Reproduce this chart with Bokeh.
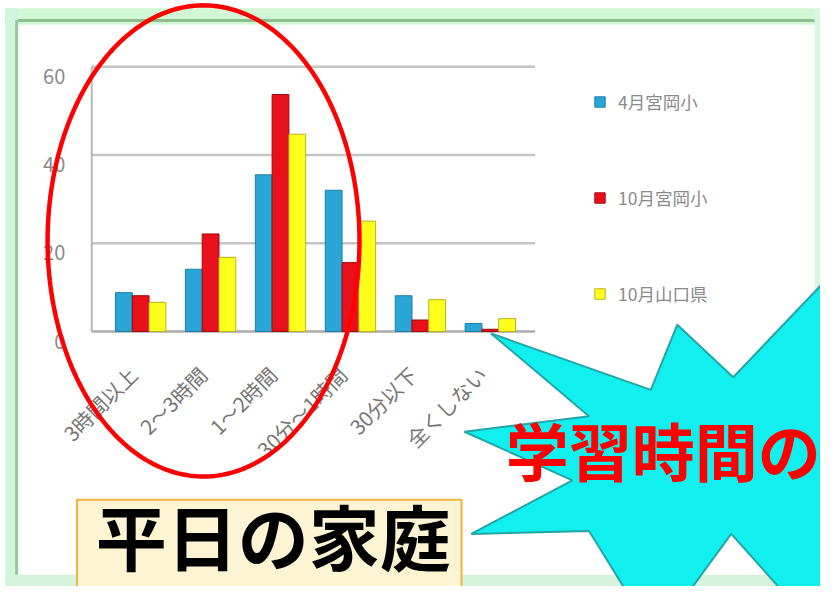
import numpy as np
from bokeh.plotting import figure
from bokeh.models import (ColumnDataSource, Range1d, Legend, LegendItem,
                          Label, PolyAnnotation, BoxAnnotation)
from bokeh.core.properties import value
from bokeh.transform import dodge
from bokeh.embed import file_html
from bokeh.resources import INLINE

# ---------------- data ----------------
categories = ["3時間以上", "2～3時間", "1～2時間", "30分～1時間", "30分以下", "全くしない"]
series_names = ["4月宮岡小", "10月宮岡小", "10月山口県"]
april_school = [8.8, 14.1, 35.5, 32.0, 8.1, 1.8]
october_school = [8.1, 22.1, 53.7, 15.6, 2.6, 0.5]
october_pref = [6.6, 16.8, 44.7, 25.0, 7.2, 2.9]
y_ticks = [0, 20, 40, 60]

FONT = "Noto Sans CJK JP"
W, H = 820, 586
RW, RH = 836, 602            # reference picture size
SX, SY = W / RW, H / RH

# chart area in reference pixels: plot box left/right, rows of value 60 and value 0
A_L, A_R, A_T, A_B = 93, 545, 68, 340
X0, X1 = -0.2, 6.14
Y0, Y1 = 0, 60
PX_X = (A_R - A_L) / (X1 - X0)   # reference pixels per x unit
PX_Y = (A_B - A_T) / (Y1 - Y0)   # reference pixels per y unit


def dx(px):
    return X0 + (np.asarray(px, dtype=float) - A_L) / PX_X


def dy(py):
    return Y0 + (A_B - np.asarray(py, dtype=float)) / PX_Y


x_centers = [i + 0.5 for i in range(len(categories))]
src = ColumnDataSource(dict(x=x_centers, a=april_school, b=october_school, c=october_pref))

p = figure(width=W, height=H, output_backend="svg", toolbar_location=None, title=None,
           x_range=Range1d(float(dx(0)), float(dx(RW))),
           y_range=Range1d(float(dy(RH)), float(dy(0))),
           x_axis_location=None, y_axis_location=None,
           min_border=0, background_fill_color="white", border_fill_color="white")
p.outline_line_color = None
p.grid.visible = False


# ---------- slide frame (underlay) ----------
def band(l, r, t, b, color):
    p.add_layout(BoxAnnotation(left=float(dx(l)), right=float(dx(r)), top=float(dy(t)), bottom=float(dy(b)),
                               fill_color=color, fill_alpha=1, line_color=None, level="underlay"))


band(5, 840, 8, 25, "#D2F7D4")
band(5, 840, 19, 22, "#8DBE90")
band(5, 18, 8, 610, "#D0F5DA")
band(15, 18, 20, 598, "#97C7A2")
band(5, 840, 590, 610, "#D5F3DB")
band(830, 840, 8, 610, "#D8F7E0")

# ---------- grid and axis lines ----------
p.segment(x0=[X0] * len(y_ticks), y0=y_ticks, x1=[X1] * len(y_ticks), y1=y_ticks,
          line_color="#C4C4C4", line_width=2.5)
p.segment(x0=[X0], y0=[Y0], x1=[X0], y1=[Y1], line_color="#B8B8B8", line_width=2)
p.segment(x0=[X0], y0=[Y0], x1=[X1], y1=[Y0], line_color="#ADADAD", line_width=2)

# y tick labels
p.text(x=[X0 - 27 / PX_X] * len(y_ticks), y=[v - 10 / PX_Y for v in y_ticks], text=[str(v) for v in y_ticks],
       text_align="right", text_baseline="middle", text_font=value(FONT),
       text_font_size="20px", text_color="#8A8A8A")

# category labels (rotated 45 degrees, ending under each group)
p.text(x=[c - 8 / PX_X for c in x_centers], y=[Y0 - 40 / PX_Y] * len(categories), text=categories,
       angle=np.pi / 4, text_align="right", text_baseline="middle", text_font=value(FONT),
       text_font_size="20.5px", text_color="#767676")

# ---------- bars ----------
bw = 0.24
r1 = p.vbar(x=dodge("x", -bw, range=p.x_range), top="a", width=bw, source=src,
            fill_color="#2AA6D6", line_color="#1C7FA6", line_width=1)
r2 = p.vbar(x=dodge("x", 0, range=p.x_range), top="b", width=bw, source=src,
            fill_color="#E8101A", line_color="#9E0A0A", line_width=1)
r3 = p.vbar(x=dodge("x", bw, range=p.x_range), top="c", width=bw, source=src,
            fill_color="#FFFF1E", line_color="#B4B41A", line_width=1)

legend = Legend(items=[LegendItem(label=n, renderers=[r]) for n, r in zip(series_names, [r1, r2, r3])],
                location=(round(605 * SX), 280), orientation="vertical", spacing=71, padding=0, margin=0,
                glyph_width=13, glyph_height=13, label_standoff=12,
                label_text_font=FONT, label_text_font_size="17.5px", label_text_color="#8A8A8A",
                background_fill_alpha=0, border_line_color=None)
p.add_layout(legend)

# ---------- overlays ----------
t = np.linspace(0, 2 * np.pi, 240)
p.add_layout(PolyAnnotation(xs=list(dx(207 + 159 * np.cos(t))), ys=list(dy(247 + 242 * np.sin(t))),
                            fill_alpha=0, line_color="#FF0000", line_alpha=1, line_width=4.5,
                            level="overlay"))

star_px = [(500, 342), (663, 400), (690, 333), (747, 387), (836, 293), (840, 293), (840, 610),
           (800, 610), (745, 548), (700, 610), (640, 610), (600, 545), (480, 548), (583, 493),
           (473, 443), (600, 427)]
p.add_layout(PolyAnnotation(xs=list(dx([q[0] for q in star_px])), ys=list(dy([q[1] for q in star_px])),
                            fill_color="#12EFEF", fill_alpha=1, line_color="#22A6A6", line_alpha=1,
                            line_width=2, level="overlay"))

p.add_layout(Label(x=float(dx(515)), y=float(dy(414)), text="学習時間の", text_font=FONT,
                   text_font_size="63px", text_font_style="bold", text_color="#FF0000",
                   text_align="left", text_baseline="top", level="overlay"))

p.add_layout(BoxAnnotation(left=float(dx(78)), right=float(dx(470)), top=float(dy(513)), bottom=float(dy(620)),
                           fill_color="#FDF4D4", fill_alpha=1, line_color="#F0B43C", line_alpha=1,
                           line_width=2, level="overlay"))
p.add_layout(Label(x=float(dx(97)), y=float(dy(496)), text="平日の家庭", text_font=FONT,
                   text_font_size="71px", text_font_style="bold", text_color="#000000",
                   text_align="left", text_baseline="top", level="overlay"))

open("out.html", "w").write(file_html(p, INLINE))
